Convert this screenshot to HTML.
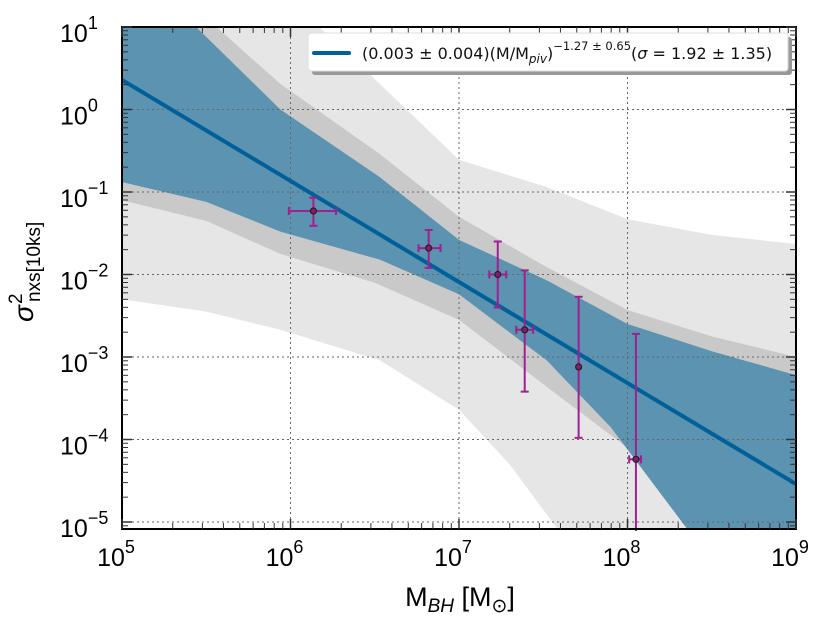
<!DOCTYPE html>
<html><head><meta charset="utf-8"><style>
html,body{margin:0;padding:0;width:831px;height:624px;overflow:hidden;background:#fff;font-family:"Liberation Sans","DejaVu Sans",sans-serif}
svg{display:block}
svg text{font-family:"Liberation Sans","DejaVu Sans",sans-serif}
</style></head><body>
<svg id="c" width="831" height="624" viewBox="0 0 831 624">
<defs><clipPath id="clip"><rect x="122" y="27" width="674" height="502"/></clipPath></defs>
<g id="bands" clip-path="url(#clip)"></g>
<g id="grid" clip-path="url(#clip)"></g>
<g id="fit" clip-path="url(#clip)"></g>
<g id="pts"></g>
<g id="axes"></g>
<g>
<rect x="312" y="37" width="480" height="38" rx="3" fill="#999"/>
<rect x="308" y="33" width="480" height="38" rx="3" fill="#fff" stroke="#ddd"/>
<line x1="314" y1="53" x2="349" y2="53" stroke="#00609a" stroke-width="4" stroke-linecap="round"/>
<text x="362" y="59" font-size="16" fill="#111" style="font-family:'DejaVu Sans',sans-serif">(0.003 ± 0.004)(M/M<tspan font-style="italic" font-size="12" dy="4">piv</tspan><tspan dy="-4">)</tspan><tspan font-size="11.5" dy="-9">−1.27 ± 0.65</tspan><tspan dy="9">(</tspan><tspan font-style="italic">σ</tspan> = 1.92 ± 1.35)</text>
</g>
<text x="460" y="606" font-size="27" text-anchor="middle">M<tspan font-size="19" font-style="italic" dy="6">BH</tspan><tspan dy="-6"> [M</tspan><tspan font-size="19" dy="6">⊙</tspan><tspan dy="-6">]</tspan></text>
<g>
<text transform="translate(33,322) rotate(-90)" font-size="28" font-style="italic">σ</text>
<text transform="translate(22,304) rotate(-90)" font-size="19">2</text>
<text transform="translate(40,302) rotate(-90)" font-size="19">nxs[10ks]</text>
</g>
</svg>
<script>
const xTicks=[5,6,7,8,9];
const yTicks=[1,0,-1,-2,-3,-4,-5];
const fitX=[5,9];
const fitY=[0.358,-4.54];
const blueUpX=[4.9,5.44,5.94,6.53,7,7.52,8,8.5,9];
const blueUpY=[2.2,1.0,0.0,-0.82,-1.58,-2.07,-2.6,-2.93,-3.22];
const blueLoX=[5,5.5,5.94,6.53,7,7.52,7.9,8.36,8.7];
const blueLoY=[-0.88,-1.12,-1.48,-1.82,-2.24,-3.04,-3.85,-5.1,-5.5];
const grayUpX=[4.9,5.56,5.94,6.53,7,7.52,8,8.5,9];
const grayUpY=[2.4,1.0,0.31,-0.54,-1.3,-1.91,-2.43,-2.75,-3.0];
const grayLoX=[5,5.5,5.94,6.5,7,7.52,8,8.51,8.7];
const grayLoY=[-1.1,-1.35,-1.75,-2.1,-2.55,-3.36,-4.1,-5.1,-5.5];
const lightUpX=[5,6.17,6.53,7,7.52,8,8.5,9];
const lightUpY=[3.0,1.0,0.31,-0.61,-0.94,-1.33,-1.52,-1.63];
const lightLoX=[5,5.5,5.94,6.53,7,7.3,7.59,7.75];
const lightLoY=[-2.3,-2.45,-2.67,-3.04,-3.64,-4.3,-5.1,-5.5];
const ptX=[6.136,6.82,7.23,7.39,7.71,8.05];
const ptY=[-1.23,-1.68,-2.0,-2.67,-3.12,-4.24];
const ptXlo=[5.99,6.76,7.18,7.34,7.71,8.01];
const ptXhi=[6.27,6.89,7.28,7.44,7.71,8.08];
const ptYhi=[-1.07,-1.46,-1.6,-1.95,-2.27,-2.72];
const ptYlo=[-1.41,-1.92,-2.4,-3.42,-3.98,-6];
const X0=122,X1=796,Y0=27,YB=529;
const sx=v=>X0+(v-5)*(X1-X0)/4;
const sy=v=>Y0+(1-v)*82.5;
const NS='http://www.w3.org/2000/svg';
function mk(tag,attrs,parent){const e=document.createElementNS(NS,tag);for(const k in attrs)e.setAttribute(k,attrs[k]);parent.appendChild(e);return e;}
function band(ux,uy,lx,ly,fill,name){
 let d='M'+ux.map((x,i)=>sx(x)+','+sy(uy[i])).join('L');
 d+='L'+sx(9.1)+','+sy(uy[uy.length-1]-0.1)+'L'+sx(9.1)+','+sy(-5.5);
 for(let i=lx.length-1;i>=0;i--)d+='L'+sx(lx[i])+','+sy(ly[i]);
 d+='L'+sx(4.9)+','+sy(ly[0]);
 d+='L'+sx(4.9)+','+sy(uy[0]);
 const p=mk('path',{d:d+'Z',fill:fill},document.getElementById('bands'));
 
 
}
band(lightUpX,lightUpY,lightLoX,lightLoY,'#e6e6e6','band-3sigma');
band(grayUpX,grayUpY,grayLoX,grayLoY,'#c9c9c9','band-2sigma');
band(blueUpX,blueUpY,blueLoX,blueLoY,'#5b93b0','band-1sigma');
const g=document.getElementById('grid');
xTicks.slice(1,-1).forEach(t=>{const l=mk('line',{x1:sx(t),x2:sx(t),y1:Y0,y2:YB,stroke:'#666','stroke-dasharray':'2,3'},g);});
yTicks.slice(1).forEach(t=>{const l=mk('line',{x1:X0,x2:X1,y1:sy(t),y2:sy(t),stroke:'#666','stroke-dasharray':'2,3'},g);});
const fl=mk('line',{x1:sx(fitX[0]),y1:sy(fitY[0]),x2:sx(fitX[1]),y2:sy(fitY[1]),stroke:'#00609a','stroke-width':4},document.getElementById('fit'));


const pg=document.getElementById('pts');
ptX.forEach((x,i)=>{
 const c='#a0208f';
 const gr=mk('g',{},pg);
 
 
 const cx=sx(x),cy=sy(ptY[i]),y1=Math.min(sy(ptYlo[i]),YB+2),y2=sy(ptYhi[i]);
 mk('line',{x1:cx,x2:cx,y1:y1,y2:y2,stroke:c,'stroke-width':2},gr);
 mk('line',{x1:cx-4,x2:cx+4,y1:y2,y2:y2,stroke:c,'stroke-width':2},gr);
 if(ptYlo[i]>-5)mk('line',{x1:cx-4,x2:cx+4,y1:y1,y2:y1,stroke:c,'stroke-width':2},gr);
 const a=sx(ptXlo[i]),b=sx(ptXhi[i]);
 if(b-a>1){mk('line',{x1:a,x2:b,y1:cy,y2:cy,stroke:c,'stroke-width':2},gr);
 mk('line',{x1:a,x2:a,y1:cy-4,y2:cy+4,stroke:c,'stroke-width':2},gr);
 mk('line',{x1:b,x2:b,y1:cy-4,y2:cy+4,stroke:c,'stroke-width':2},gr);}
 mk('circle',{cx:cx,cy:cy,r:3,fill:'#8a1a70',stroke:'#222','stroke-width':1.2},gr);
});
const ax=document.getElementById('axes');
const fr=mk('rect',{x:X0,y:Y0,width:X1-X0,height:YB-Y0,fill:'none',stroke:'#000','stroke-width':2},ax);


xTicks.forEach(t=>{
 const x=sx(t);
 mk('line',{x1:x,x2:x,y1:YB,y2:YB-10,stroke:'#333','stroke-width':1.5},ax);
 mk('line',{x1:x,x2:x,y1:Y0,y2:Y0+10,stroke:'#333','stroke-width':1.5},ax);
 if(t<9)for(let k=2;k<10;k++){const xm=sx(t+Math.log10(k));mk('line',{x1:xm,x2:xm,y1:YB,y2:YB-6,stroke:'#333'},ax);mk('line',{x1:xm,x2:xm,y1:Y0,y2:Y0+6,stroke:'#333'},ax);}
 const tx=mk('text',{x:x-6,y:566,'font-size':25,'text-anchor':'middle'},ax);
 
 
 tx.innerHTML='10<tspan font-size="18" dy="-13">'+t+'</tspan>';
});
yTicks.forEach(t=>{
 const y=sy(t);
 mk('line',{x1:X0,x2:X0+10,y1:y,y2:y,stroke:'#333','stroke-width':1.5},ax);
 mk('line',{x1:X1,x2:X1-10,y1:y,y2:y,stroke:'#333','stroke-width':1.5},ax);
 for(let k=2;k<10;k++){const ym=sy(t-1+Math.log10(k));if(ym<YB&&ym>Y0){mk('line',{x1:X0,x2:X0+6,y1:ym,y2:ym,stroke:'#333'},ax);mk('line',{x1:X1,x2:X1-6,y1:ym,y2:ym,stroke:'#333'},ax);}}
 const tx=mk('text',{x:60,y:y+15,'font-size':25},ax);
 
 
 tx.innerHTML='10<tspan font-size="18" dy="-13">'+(t<0?'−'+(-t):t)+'</tspan>';
});
</script>
</body></html>
